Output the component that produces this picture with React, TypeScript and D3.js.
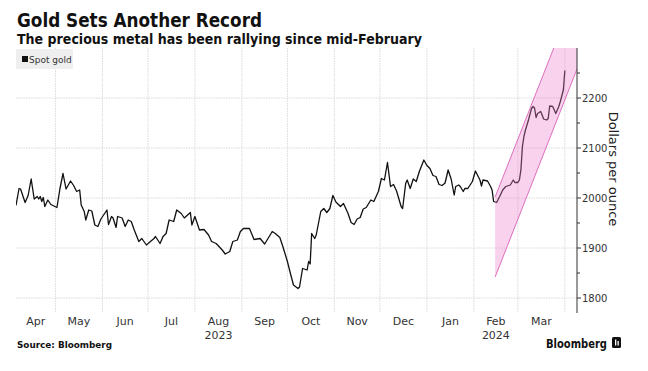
import React from 'react';
import * as d3 from 'd3';

const WIDTH = 648;
const HEIGHT = 371;

// plot box
const LEFT = 16;
const RIGHT = 577;
const TOP = 48;
const BOTTOM = 313;

const X_START = '2023-04-05';
const X_END = '2024-04-09';

// spot gold, dollars per ounce
const priceDates = [
  '2023-04-05', '2023-04-07', '2023-04-08', '2023-04-11', '2023-04-13', '2023-04-15', '2023-04-17', '2023-04-19',
  '2023-04-20', '2023-04-21', '2023-04-22', '2023-04-23', '2023-04-24', '2023-04-26', '2023-04-28', '2023-05-02',
  '2023-05-04', '2023-05-06', '2023-05-08', '2023-05-11', '2023-05-13', '2023-05-15', '2023-05-17', '2023-05-18',
  '2023-05-20', '2023-05-21', '2023-05-23', '2023-05-25', '2023-05-27', '2023-05-29', '2023-05-31', '2023-06-04',
  '2023-06-05', '2023-06-07', '2023-06-08', '2023-06-10', '2023-06-11', '2023-06-14', '2023-06-16', '2023-06-18',
  '2023-06-20', '2023-06-22', '2023-06-25', '2023-06-27', '2023-06-30', '2023-07-05', '2023-07-06', '2023-07-09',
  '2023-07-11', '2023-07-13', '2023-07-15', '2023-07-18', '2023-07-20', '2023-07-23', '2023-07-25', '2023-07-29',
  '2023-07-30', '2023-08-01', '2023-08-04', '2023-08-07', '2023-08-10', '2023-08-12', '2023-08-15', '2023-08-19',
  '2023-08-21', '2023-08-24', '2023-08-26', '2023-08-29', '2023-08-31', '2023-09-02', '2023-09-06', '2023-09-09',
  '2023-09-13', '2023-09-16', '2023-09-21', '2023-09-23', '2023-09-26', '2023-09-28', '2023-10-01', '2023-10-03',
  '2023-10-05', '2023-10-08', '2023-10-09', '2023-10-11', '2023-10-14', '2023-10-15', '2023-10-16', '2023-10-17',
  '2023-10-19', '2023-10-20', '2023-10-23', '2023-10-25', '2023-10-27', '2023-10-29', '2023-10-31', '2023-11-02',
  '2023-11-05', '2023-11-07', '2023-11-10', '2023-11-12', '2023-11-14', '2023-11-16', '2023-11-18', '2023-11-20',
  '2023-11-22', '2023-11-25', '2023-11-27', '2023-11-30', '2023-12-02', '2023-12-04', '2023-12-06', '2023-12-08',
  '2023-12-10', '2023-12-12', '2023-12-15', '2023-12-16', '2023-12-18', '2023-12-19', '2023-12-21', '2023-12-23',
  '2023-12-25', '2023-12-27', '2023-12-30', '2024-01-01', '2024-01-03', '2024-01-05', '2024-01-07', '2024-01-09',
  '2024-01-11', '2024-01-13', '2024-01-15', '2024-01-17', '2024-01-19', '2024-01-20', '2024-01-22', '2024-01-23',
  '2024-01-25', '2024-01-26', '2024-01-28', '2024-01-31', '2024-02-02', '2024-02-05', '2024-02-06', '2024-02-07',
  '2024-02-10', '2024-02-12', '2024-02-13', '2024-02-14', '2024-02-16', '2024-02-18', '2024-02-20', '2024-02-22',
  '2024-02-25', '2024-02-27', '2024-02-28', '2024-03-01', '2024-03-02', '2024-03-03', '2024-03-04', '2024-03-05',
  '2024-03-06', '2024-03-08', '2024-03-10', '2024-03-11', '2024-03-12', '2024-03-13', '2024-03-14', '2024-03-16',
  '2024-03-17', '2024-03-18', '2024-03-20', '2024-03-21', '2024-03-22', '2024-03-24', '2024-03-26', '2024-03-27',
  '2024-03-28', '2024-03-29', '2024-03-31', '2024-04-01',
];

const priceValues = [
  1985, 2019, 2018, 1991, 2005, 2038, 1998, 2003,
  1998, 2003, 1993, 2001, 1983, 1996, 1987, 1981,
  2019, 2049, 2018, 2034, 2025, 2013, 2016, 1986,
  1973, 1956, 1976, 1974, 1946, 1943, 1958, 1976,
  1947, 1963, 1960, 1941, 1963, 1960, 1943, 1956,
  1953, 1936, 1913, 1919, 1906, 1919, 1923, 1909,
  1923, 1929, 1956, 1953, 1976, 1969, 1960, 1971,
  1946, 1963, 1936, 1937, 1926, 1913, 1909, 1896,
  1888, 1893, 1913, 1916, 1933, 1939, 1939, 1917,
  1919, 1908, 1933, 1929, 1921, 1903, 1873, 1849,
  1826, 1819, 1822, 1859, 1856, 1873, 1868, 1929,
  1919, 1926, 1973, 1979, 1971, 1979, 2005, 1992,
  1983, 1989, 1969, 1951, 1947, 1958, 1961, 1978,
  1981, 1996, 1993, 2013, 2039, 2036, 2071, 2023,
  2027, 2014, 1983, 1979, 2029, 2036, 2019, 2038,
  2033, 2053, 2076, 2065, 2059, 2045, 2043, 2027,
  2025, 2030, 2056, 2038, 2006, 2023, 2026, 2023,
  2013, 2019, 2019, 2033, 2054, 2036, 2024, 2036,
  2034, 2023, 2016, 1993, 1991, 2003, 2016, 2023,
  2026, 2036, 2031, 2031, 2036, 2056, 2103, 2123,
  2136, 2156, 2179, 2183, 2180, 2161, 2169, 2173,
  2166, 2158, 2156, 2159, 2184, 2183, 2169, 2176,
  2183, 2193, 2216, 2255,
];

const yTicks = [1800, 1900, 2000, 2100, 2200];
const yMinorTicks = [1800, 1850, 1900, 1950, 2000, 2050, 2100, 2150, 2200, 2250];

const yearLabels = ['2023', '2024'];
const yearMonths = ['2023-08-01', '2024-02-01'];

// trend channel since mid-February
const bandDates = ['2024-02-15', '2024-04-09'];
const bandUpper = [2002, 2418];
const bandLower = [1842, 2258];

const parse = (s: string) => new Date(s + 'T00:00:00Z');

export default function App() {
  const x = d3.scaleUtc().domain([parse(X_START), parse(X_END)]).range([LEFT, RIGHT]);
  const y = d3.scaleLinear().domain([1770, 2300]).range([BOTTOM, TOP]);

  const points = priceDates.map((d, i) => ({ date: parse(d), value: priceValues[i] }));
  const line = d3
    .line<{ date: Date; value: number }>()
    .x((d) => x(d.date))
    .y((d) => y(d.value))
    .curve(d3.curveLinear);

  const [d0, d1] = x.domain();
  const monthStarts = d3.utcMonth.range(d3.utcMonth.ceil(d0), d1);
  const monthLabels = d3.utcMonth
    .range(d3.utcMonth.floor(d0), d1)
    .map((m) => {
      const a = Math.max(x(m), LEFT);
      const b = Math.min(x(d3.utcMonth.offset(m, 1)), RIGHT);
      return { m, cx: (a + b) / 2, w: b - a };
    })
    .filter((d) => d.w > 25);

  const bStart = parse(bandDates[0]);
  const bEnd = parse(bandDates[1]);
  const bandArea = d3
    .area<number>()
    .x((i) => x(i === 0 ? bStart : bEnd))
    .y0((i) => y(bandLower[i]))
    .y1((i) => y(bandUpper[i]));
  const edge = (vals: number[]) =>
    d3.line<number>().x((i) => x(i === 0 ? bStart : bEnd)).y((i) => y(vals[i]))([0, 1]) || '';

  const fmtMonth = d3.utcFormat('%b');
  const grid = '#dadada';

  return (
    <svg
      width={WIDTH}
      height={HEIGHT}
      viewBox={`0 0 ${WIDTH} ${HEIGHT}`}
      style={{ position: 'absolute', left: 0, top: 0, background: '#fff' }}
      fontFamily="'DejaVu Sans', sans-serif"
    >
      <defs>
        <clipPath id="plot">
          <rect x={LEFT} y={TOP} width={RIGHT - LEFT} height={BOTTOM - TOP} />
        </clipPath>
      </defs>

      {/* titles */}
      <text x={17} y={27} fontSize={19} fontWeight="bold" fill="#111" textLength={245} lengthAdjust="spacingAndGlyphs">
        Gold Sets Another Record
      </text>
      <text x={17} y={44} fontSize={13.5} fontWeight="bold" fill="#111" textLength={405} lengthAdjust="spacingAndGlyphs">
        The precious metal has been rallying since mid-February
      </text>

      {/* grid */}
      {monthStarts.map((m) => (
        <line key={+m} x1={x(m)} x2={x(m)} y1={TOP} y2={BOTTOM} stroke={grid} strokeWidth={1} strokeDasharray="1.5,1" />
      ))}
      {yTicks.map((t) => (
        <line key={t} x1={LEFT} x2={RIGHT} y1={y(t)} y2={y(t)} stroke={grid} strokeWidth={1} strokeDasharray="1.5,1" />
      ))}

      {/* legend */}
      <rect x={16} y={49} width={57} height={20} fill="#efefef" />
      <rect x={22} y={56} width={6} height={6} fill="#111" />
      <text x={29} y={62.5} fontSize={9} fill="#333">Spot gold</text>

      {/* price + channel */}
      <g clipPath="url(#plot)">
        <path d={line(points) || ''} fill="none" stroke="#111" strokeWidth={1.3} strokeLinejoin="round" />
        <path d={bandArea([0, 1]) || ''} fill="#ee7fce" fillOpacity={0.35} />
        <path d={edge(bandUpper)} fill="none" stroke="#dc6fbd" strokeWidth={1} />
        <path d={edge(bandLower)} fill="none" stroke="#dc6fbd" strokeWidth={1} />
      </g>

      {/* right axis */}
      <line x1={RIGHT} x2={RIGHT} y1={TOP} y2={BOTTOM} stroke="#333" strokeWidth={1} />
      {yMinorTicks.map((t) => (
        <line key={t} x1={RIGHT} x2={RIGHT + (t % 100 === 0 ? 4 : 3)} y1={y(t)} y2={y(t)} stroke="#333" strokeWidth={1} />
      ))}
      {yTicks.map((t) => (
        <text key={t} x={RIGHT + 5} y={y(t)} dy="0.35em" fontSize={10} fill="#333">
          {t}
        </text>
      ))}
      <text transform={`translate(614,169) rotate(90)`} textAnchor="middle" dy="0.35em" fontSize={13} fill="#222">
        Dollars per ounce
      </text>

      {/* x labels */}
      {monthLabels.map((d) => (
        <text key={+d.m} x={d.cx} y={325} textAnchor="middle" fontSize={11} fill="#333">
          {fmtMonth(d.m)}
        </text>
      ))}
      {yearLabels.map((lbl, i) => {
        const m = parse(yearMonths[i]);
        const cx = (x(m) + x(d3.utcMonth.offset(m, 1))) / 2;
        return (
          <text key={lbl} x={cx} y={339} textAnchor="middle" fontSize={11} fill="#333">
            {lbl}
          </text>
        );
      })}

      {/* footer */}
      <text x={17} y={348} fontSize={9.5} fontWeight="bold" fill="#111" textLength={95} lengthAdjust="spacingAndGlyphs">
        Source: Bloomberg
      </text>
      <text x={546} y={348} fontSize={13} fontWeight="bold" fill="#111" textLength={61} lengthAdjust="spacingAndGlyphs">
        Bloomberg
      </text>
      <rect x={612} y={337} width={9} height={11} rx={1.5} fill="#111" />
      <rect x={615} y={339.5} width={1.3} height={6} fill="#fff" />
      <rect x={617.5} y={341} width={1.3} height={4.5} fill="#fff" />
    </svg>
  );
}
